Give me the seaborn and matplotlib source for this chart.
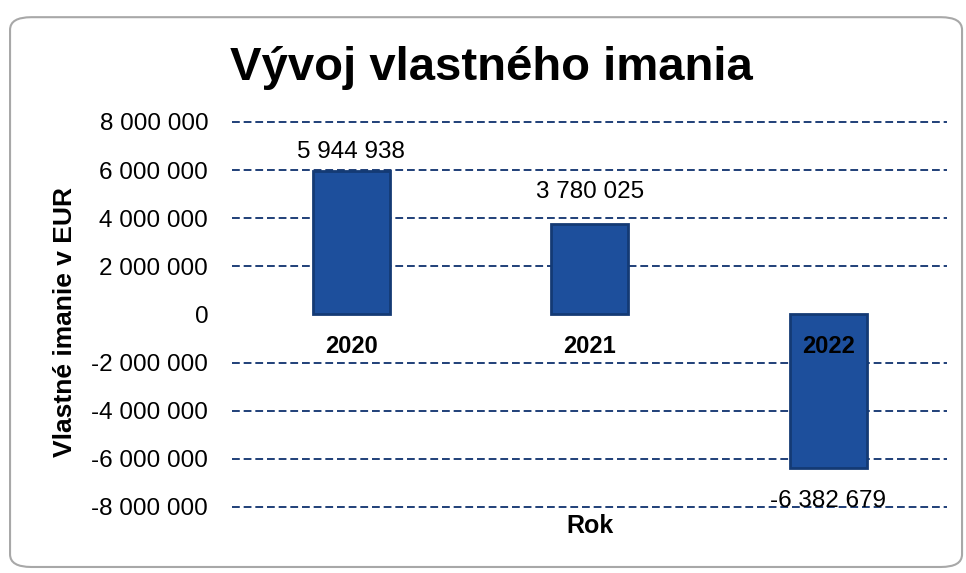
import matplotlib
matplotlib.use("Agg")
import matplotlib.pyplot as plt
import seaborn as sns
import pandas as pd
from matplotlib.patches import FancyBboxPatch

# udaje z grafu
roky = ["2020", "2021", "2022"]
imanie = [5944938, 3780025, -6382679]
tick_hodnoty = [8000000, 6000000, 4000000, 2000000, 0, -2000000, -4000000, -6000000, -8000000]

def fmt(v):
    return f"{v:,.0f}".replace(",", " ")

df = pd.DataFrame({"Rok": roky, "Imanie": imanie})

sns.set_style("white")
plt.rcParams["font.family"] = ["Liberation Sans", "DejaVu Sans"]
plt.rcParams["text.color"] = "black"
plt.rcParams["axes.labelcolor"] = "black"
plt.rcParams["ytick.color"] = "black"

fig = plt.figure(figsize=(9.66, 5.73), dpi=100)
ax = fig.add_axes([0.240, 0.1068, 0.7407, 0.6887])

sns.barplot(data=df, x="Rok", y="Imanie", ax=ax, color="#1d4f9c", saturation=1,
            width=0.323, edgecolor="#143a74", linewidth=2, zorder=2)

ax.set_ylim(-8200000, 8200000)
ax.set_yticks(tick_hodnoty)
ax.set_yticklabels([fmt(t) for t in tick_hodnoty], fontsize=17.5)
ax.tick_params(axis="y", length=0, pad=17)
ax.tick_params(axis="x", length=0, labelbottom=False)
ax.yaxis.grid(True, color="#1f3f78", linestyle=(0, (4, 2)), linewidth=1.4)
ax.set_axisbelow(True)
# bez ciary na nule
ax.yaxis.get_major_ticks()[tick_hodnoty.index(0)].gridline.set_visible(False)
for s in ax.spines.values():
    s.set_visible(False)

# popisky rokov pod nulovou osou
for i, r in enumerate(roky):
    ax.annotate(r, (i, 0), xytext=(0, -27.4), textcoords="offset points",
                ha="center", va="baseline", fontsize=17, fontweight="bold", zorder=5)

# hodnoty nad/pod stlpcami (odsadenie ako v predlohe)
odsadenie = [10, 18.7, -27.7]
for i, (v, p) in enumerate(zip(imanie, odsadenie)):
    ax.annotate(fmt(v), (i, v), xytext=(0, p), textcoords="offset points",
                ha="center", va="baseline", fontsize=17.5, zorder=5)

ax.set_xlabel("Rok", fontsize=18, fontweight="bold")
ax.xaxis.set_label_coords(0.5, -0.006)
ax.set_ylabel("Vlastné imanie v EUR", fontsize=19, fontweight="bold")
ax.yaxis.set_label_coords(-0.217, 0.482)

fig.text(0.5088, 0.8604, "Vývoj vlastného imania", ha="center", va="baseline",
         fontsize=34, fontweight="bold")

ramik = FancyBboxPatch((0.0104, 0.0105), 0.9855, 0.9595,
                       boxstyle="round,pad=0,rounding_size=0.022",
                       transform=fig.transFigure, facecolor="none", edgecolor="#a8a8a8",
                       linewidth=1.5)
fig.patches.append(ramik)

fig.savefig("out.png", dpi=100)
